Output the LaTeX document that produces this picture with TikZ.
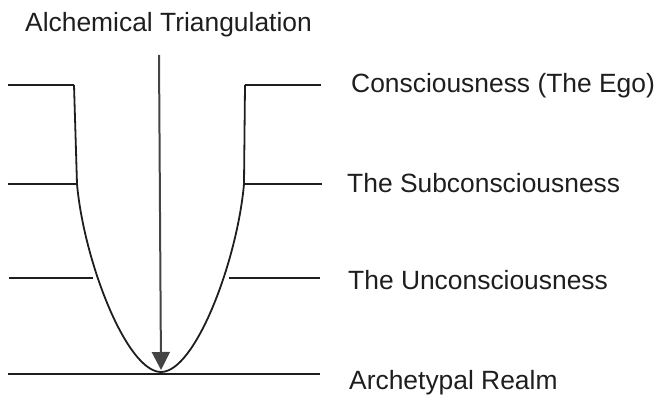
\documentclass[tikz,border=0pt]{standalone}
\usepackage{fontspec}
\setmainfont{Liberation Sans}
\usetikzlibrary{arrows.meta}
\definecolor{ink}{HTML}{1E1E1E}
\definecolor{arrowgray}{HTML}{444444}
\begin{document}
\begin{tikzpicture}[x=1pt,y=-1pt,
  lbl/.style={anchor=base west,inner sep=0pt,text=ink,font=\fontsize{26.4}{30}\selectfont},
  level/.style={draw=ink,line width=2.4pt},
  vessel/.style={draw=ink,line width=1.8pt,line join=round},
  descent/.style={draw=arrowgray,line width=2pt,-{Triangle[length=18pt,width=18pt]}}]
\useasboundingbox (0,0) rectangle (660,395);
% title
\node[lbl] (title) at (25,32) {Alchemical Triangulation};
% labels
\node[lbl] (ego) at (351,93) {Consciousness (The Ego)};
\node[lbl] (sub) at (347,193) {The Subconsciousness};
\node[lbl] (unc) at (348,289) {The Unconsciousness};
\node[lbl] (arc) at (349,389) {Archetypal Realm};
% key points
\coordinate (L0a) at (8,85);   \coordinate (L0b) at (74,85);
\coordinate (R0a) at (245,85); \coordinate (R0b) at (321,85);
\coordinate (L1a) at (8,184);  \coordinate (L1b) at (77,184);
\coordinate (R1a) at (244,184);\coordinate (R1b) at (322,184);
\coordinate (L2a) at (9,278);  \coordinate (L2b) at (93,278);
\coordinate (R2a) at (229,278);\coordinate (R2b) at (320,278);
\coordinate (B0a) at (8,374);  \coordinate (B0b) at (320,374);
\coordinate (V) at (161,372);
\coordinate (atop) at (159,55);
\coordinate (abot) at (161,370);
% level lines
\draw[level] (L0a) -- (L0b);
\draw[level] (R0a) -- (R0b);
\draw[level] (L1a) -- (L1b);
\draw[level] (R1a) -- (R1b);
\draw[level] (L2a) -- (L2b);
\draw[level] (R2a) -- (R2b);
\draw[level] (B0a) -- (B0b);
% vessel
\draw[vessel] (L0b) -- (L1b) .. controls (84,262) and (127,372) .. (V)
  .. controls (195,372) and (237,262) .. (R1a) -- (R0a);
% arrow
\draw[descent] (atop) -- (abot);
\end{tikzpicture}
\end{document}
